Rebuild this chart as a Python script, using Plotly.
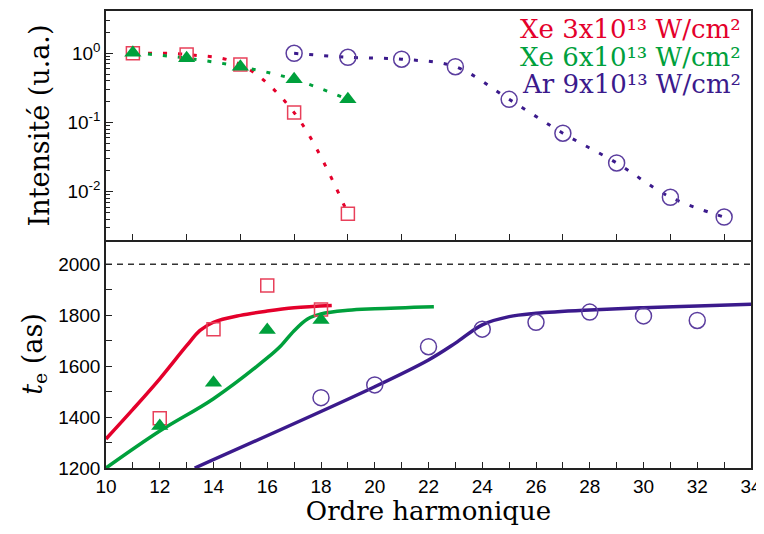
import plotly.graph_objects as go

# ---------------- data ----------------
# Top panel: intensity vs harmonic order
h_xe3 = [11, 13, 15, 17, 19]
i_xe3 = [1.0, 0.96, 0.69, 0.139, 0.0048]
h_xe6 = [11, 13, 15, 17, 19]
i_xe6 = [1.02, 0.85, 0.64, 0.42, 0.216]
h_ar9 = [17, 19, 21, 23, 25, 27, 29, 31, 33]
i_ar9 = [1.0, 0.875, 0.82, 0.64, 0.216, 0.070, 0.026, 0.0083, 0.0043]

# Bottom panel: emission time (as) measured
q_xe3 = [12, 14, 16, 18]
t_xe3 = [1395, 1745, 1916, 1822]
q_xe6 = [12, 14, 16, 18]
t_xe6 = [1365, 1535, 1742, 1781]
q_ar9 = [18, 20, 22, 24, 26, 28, 30, 32]
t_ar9 = [1476, 1526, 1676, 1745, 1772, 1812, 1797, 1779]

# Bottom panel: theory curves
qc_xe3 = [10, 11, 12, 13, 13.5, 14, 15, 16, 17, 18.4]
tc_xe3 = [1314, 1430, 1550, 1680, 1740, 1772, 1799, 1816, 1829, 1838]
qc_xe6 = [10, 12, 14, 16, 16.5, 17, 17.5, 18, 19, 20, 22.2]
tc_xe6 = [1200, 1345, 1472, 1632, 1679, 1739, 1785, 1805, 1819, 1825, 1833]
qc_ar9 = [13.3, 20, 22, 23, 24, 25, 26, 28, 30, 32, 34]
tc_ar9 = [1200, 1519, 1624, 1690, 1762, 1794, 1807, 1820, 1829, 1836, 1843]

# reference level
q_ref = [10, 34]
t_ref = [2000, 2000]

labels = ["Xe 3x10¹³ W/cm²",
          "Xe 6x10¹³ W/cm²",
          "Ar 9x10¹³ W/cm²"]

RED = "#e4002b"
RED_M = "#e8405a"
GREEN = "#00a03c"
PURPLE = "#3b1a8c"
PURPLE_M = "#5b3d9e"

SERIF = "DejaVu Serif"
SANS = "Liberation Sans"

fig = go.Figure()

dot = "4px,11px"
# top panel dotted fits
fig.add_trace(go.Scatter(x=h_xe3, y=i_xe3, xaxis="x2", yaxis="y2", mode="lines",
                         line=dict(color=RED, width=3, dash=dot, shape="spline"), hoverinfo="skip"))
fig.add_trace(go.Scatter(x=h_xe6, y=i_xe6, xaxis="x2", yaxis="y2", mode="lines",
                         line=dict(color=GREEN, width=3, dash=dot, shape="spline"), hoverinfo="skip"))
fig.add_trace(go.Scatter(x=h_ar9, y=i_ar9, xaxis="x2", yaxis="y2", mode="lines",
                         line=dict(color=PURPLE, width=3, dash=dot, shape="spline"), hoverinfo="skip"))
# top markers
fig.add_trace(go.Scatter(x=h_xe3, y=i_xe3, xaxis="x2", yaxis="y2", mode="markers",
                         marker=dict(symbol="square-open", size=13, color=RED_M, line=dict(width=1.5))))
fig.add_trace(go.Scatter(x=h_xe6, y=i_xe6, xaxis="x2", yaxis="y2", mode="markers",
                         marker=dict(symbol="triangle-up", size=15, color=GREEN)))
fig.add_trace(go.Scatter(x=h_ar9, y=i_ar9, xaxis="x2", yaxis="y2", mode="markers",
                         marker=dict(symbol="circle-open", size=16, color=PURPLE_M, line=dict(width=1.5))))

# bottom panel
fig.add_trace(go.Scatter(x=q_ref, y=t_ref, mode="lines",
                         line=dict(color="#333333", width=1.5, dash="6px,5px"), hoverinfo="skip"))
fig.add_trace(go.Scatter(x=qc_xe3, y=tc_xe3, mode="lines",
                         line=dict(color=RED, width=3.5, shape="spline"), hoverinfo="skip"))
fig.add_trace(go.Scatter(x=qc_xe6, y=tc_xe6, mode="lines",
                         line=dict(color=GREEN, width=3.5, shape="spline"), hoverinfo="skip"))
fig.add_trace(go.Scatter(x=qc_ar9, y=tc_ar9, mode="lines",
                         line=dict(color=PURPLE, width=3.5, shape="spline"), hoverinfo="skip"))
fig.add_trace(go.Scatter(x=q_xe3, y=t_xe3, mode="markers",
                         marker=dict(symbol="square-open", size=13, color=RED_M, line=dict(width=1.5))))
fig.add_trace(go.Scatter(x=q_xe6, y=t_xe6, mode="markers",
                         marker=dict(symbol="triangle-up", size=15, color=GREEN)))
fig.add_trace(go.Scatter(x=q_ar9, y=t_ar9, mode="markers",
                         marker=dict(symbol="circle-open", size=16, color=PURPLE_M, line=dict(width=1.5))))

axis_common = dict(showline=True, linecolor="#222222", linewidth=1.5,
                   ticks="inside", tickcolor="#222222", showgrid=False, zeroline=False,
                   automargin=False)

fig.update_layout(
    width=756, height=518,
    margin=dict(l=98, r=13, t=3, b=58),
    paper_bgcolor="white", plot_bgcolor="white",
    showlegend=False,
    xaxis=dict(domain=[0, 1], range=[10, 34], anchor="y", tickmode="linear", tick0=10, dtick=2,
               ticklen=6, tickwidth=1.2, mirror=False, ticklabeloverflow="allow",
               minor=dict(ticks="inside", dtick=1, tick0=10, ticklen=6, tickcolor="#222222"),
               tickfont=dict(family=SANS, size=19, color="black"),
               title=dict(text="Ordre harmonique", font=dict(family=SERIF, size=26, color="black"),
                          standoff=0),
               **axis_common),
    yaxis=dict(domain=[0, 0.499], range=[1200, 2095], anchor="x", tickmode="linear", tick0=1200,
               dtick=200, ticklen=6, tickwidth=1.2, mirror=True,
               minor=dict(ticks="inside", dtick=100, tick0=1200, ticklen=6, tickcolor="#222222"),
               tickfont=dict(family=SANS, size=19, color="black"),
               title=dict(text="<i>t</i><sub>e</sub> (as)", font=dict(family=SERIF, size=27, color="black"),
                          standoff=8),
               **axis_common),
    xaxis2=dict(domain=[0, 1], range=[10, 34], anchor="y2", matches="x", tickmode="array",
                tickvals=[11, 13, 15, 17, 19, 21, 23, 25, 27, 29, 31, 33], showticklabels=False,
                ticklen=6, tickwidth=1.2, mirror=True, **axis_common),
    yaxis2=dict(domain=[0.499, 1], type="log", range=[-2.698, 0.611], anchor="x2",
                tickmode="array", tickvals=[1, 0.1, 0.01],
                ticktext=["10<sup>0</sup>", "10<sup>-1</sup>", "10<sup>-2</sup>"],
                ticklen=7, tickwidth=1.2, mirror=True,
                minor=dict(ticks="inside", ticklen=4, tickcolor="#222222",
                           tickvals=[v * d for d in [0.001, 0.01, 0.1, 1] for v in range(2, 10)]),
                tickfont=dict(family=SANS, size=19, color="black"),
                title=dict(text="Intensité (u.a.)", font=dict(family=SERIF, size=27, color="black"),
                           standoff=10),
                **axis_common),
)

for lab, col, yy in zip(labels, [RED, GREEN, PURPLE], [0.961, 0.900, 0.840]):
    fig.add_annotation(text=lab, xref="paper", yref="paper", x=0.988, y=yy,
                       xanchor="right", yanchor="middle", showarrow=False,
                       font=dict(family=SERIF, size=26, color=col))

fig.write_html("out.html")
